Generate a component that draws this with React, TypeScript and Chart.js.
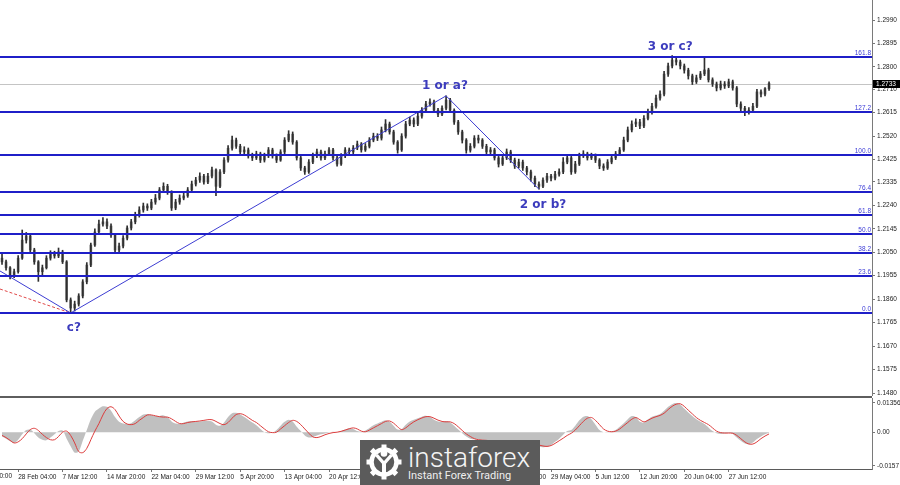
import React, { useEffect, useRef } from "react";
import { Chart, registerables } from "chart.js";

Chart.register(...registerables);

// ---------- price bars (H4), one value per bar ----------
const FIRST_OPEN = 1.2026;
const CLOSES = [
  1.2011,1.1987,1.1955,1.1971,1.2026,1.2099,1.2116,1.2059,1.2011,1.1971,
  1.1987,1.2026,1.2043,1.2035,1.2051,1.2011,1.1857,1.1824,1.1840,1.1873,
  1.1930,1.1998,1.2079,1.2132,1.2164,1.2173,1.2156,1.2120,1.2059,1.2075,
  1.2107,1.2148,1.2173,1.2200,1.2221,1.2237,1.2229,1.2253,1.2269,1.2302,
  1.2317,1.2294,1.2229,1.2253,1.2269,1.2278,1.2302,1.2326,1.2342,1.2358,
  1.2334,1.2358,1.2383,1.2317,1.2375,1.2423,1.2471,1.2504,1.2479,1.2456,
  1.2464,1.2440,1.2432,1.2448,1.2423,1.2440,1.2464,1.2440,1.2423,1.2456,
  1.2504,1.2528,1.2496,1.2432,1.2391,1.2375,1.2415,1.2440,1.2456,1.2432,
  1.2448,1.2464,1.2432,1.2407,1.2440,1.2464,1.2456,1.2472,1.2488,1.2464,
  1.2479,1.2504,1.2520,1.2512,1.2545,1.2569,1.2537,1.2496,1.2464,1.2520,
  1.2569,1.2585,1.2569,1.2601,1.2625,1.2650,1.2658,1.2625,1.2609,1.2633,
  1.2666,1.2625,1.2577,1.2537,1.2504,1.2463,1.2479,1.2512,1.2504,1.2479,
  1.2456,1.2464,1.2432,1.2407,1.2432,1.2456,1.2423,1.2399,1.2415,1.2391,
  1.2375,1.2350,1.2326,1.2317,1.2342,1.2358,1.2350,1.2366,1.2375,1.2415,
  1.2432,1.2375,1.2407,1.2440,1.2448,1.2432,1.2440,1.2423,1.2399,1.2391,
  1.2415,1.2432,1.2448,1.2464,1.2504,1.2545,1.2569,1.2577,1.2561,1.2592,
  1.2617,1.2641,1.2674,1.2690,1.2771,1.2804,1.2828,1.2820,1.2804,1.2787,
  1.2764,1.2740,1.2756,1.2772,1.2788,1.2748,1.2731,1.2715,1.2731,1.2723,
  1.2740,1.2715,1.2650,1.2633,1.2617,1.2625,1.2641,1.2699,1.2690,1.2712,
  1.2733,
];
const HIGHS = [
  1.2044,1.2018,1.1992,1.1982,1.2036,1.2140,1.2130,1.2123,1.2066,1.2016,
  1.1998,1.2036,1.2056,1.2054,1.2067,1.2058,1.2016,1.1865,1.1852,1.1882,
  1.1939,1.2008,1.2087,1.2145,1.2180,1.2190,1.2185,1.2165,1.2125,1.2087,
  1.2117,1.2157,1.2183,1.2212,1.2234,1.2249,1.2246,1.2264,1.2284,1.2312,
  1.2331,1.2325,1.2299,1.2264,1.2282,1.2290,1.2312,1.2338,1.2353,1.2371,
  1.2365,1.2369,1.2395,1.2388,1.2385,1.2433,1.2482,1.2520,1.2512,1.2487,
  1.2477,1.2472,1.2451,1.2459,1.2455,1.2451,1.2474,1.2471,1.2448,1.2465,
  1.2514,1.2542,1.2537,1.2502,1.2438,1.2398,1.2425,1.2451,1.2468,1.2463,
  1.2459,1.2474,1.2471,1.2438,1.2449,1.2474,1.2472,1.2482,1.2500,1.2494,
  1.2490,1.2514,1.2532,1.2530,1.2557,1.2587,1.2577,1.2544,1.2502,1.2530,
  1.2580,1.2597,1.2594,1.2613,1.2636,1.2661,1.2671,1.2666,1.2633,1.2643,
  1.2683,1.2673,1.2631,1.2584,1.2544,1.2510,1.2490,1.2522,1.2524,1.2510,
  1.2487,1.2474,1.2471,1.2438,1.2443,1.2468,1.2463,1.2431,1.2427,1.2423,
  1.2398,1.2383,1.2358,1.2335,1.2351,1.2369,1.2365,1.2377,1.2388,1.2433,
  1.2443,1.2438,1.2418,1.2451,1.2461,1.2455,1.2451,1.2448,1.2429,1.2408,
  1.2425,1.2441,1.2458,1.2474,1.2516,1.2557,1.2582,1.2590,1.2588,1.2603,
  1.2629,1.2653,1.2686,1.2703,1.2782,1.2816,1.2846,1.2836,1.2828,1.2812,
  1.2795,1.2771,1.2767,1.2782,1.2840,1.2795,1.2756,1.2739,1.2743,1.2741,
  1.2751,1.2747,1.2721,1.2659,1.2641,1.2636,1.2653,1.2709,1.2707,1.2717,
  1.2740,
];
const LOWS = [
  1.2001,1.1977,1.1942,1.1947,1.1965,1.2021,1.2087,1.2051,1.2001,1.1932,
  1.1957,1.1982,1.2018,1.2026,1.2028,1.2004,1.1849,1.1804,1.1812,1.1832,
  1.1865,1.1922,1.1991,1.2073,1.2125,1.2155,1.2145,1.2110,1.2046,1.2051,
  1.2067,1.2100,1.2140,1.2165,1.2192,1.2212,1.2219,1.2222,1.2244,1.2262,
  1.2294,1.2284,1.2219,1.2222,1.2244,1.2262,1.2272,1.2294,1.2318,1.2333,
  1.2325,1.2328,1.2351,1.2279,1.2311,1.2368,1.2415,1.2463,1.2470,1.2445,
  1.2448,1.2431,1.2421,1.2425,1.2413,1.2415,1.2433,1.2431,1.2413,1.2418,
  1.2448,1.2497,1.2487,1.2423,1.2381,1.2365,1.2369,1.2408,1.2433,1.2423,
  1.2425,1.2441,1.2423,1.2398,1.2401,1.2433,1.2448,1.2449,1.2465,1.2455,
  1.2458,1.2472,1.2497,1.2502,1.2504,1.2537,1.2528,1.2487,1.2451,1.2458,
  1.2512,1.2562,1.2558,1.2562,1.2593,1.2617,1.2641,1.2616,1.2599,1.2603,
  1.2626,1.2616,1.2567,1.2527,1.2492,1.2451,1.2455,1.2472,1.2492,1.2470,
  1.2445,1.2448,1.2423,1.2395,1.2401,1.2425,1.2413,1.2389,1.2391,1.2381,
  1.2363,1.2338,1.2315,1.2305,1.2311,1.2333,1.2339,1.2343,1.2358,1.2368,
  1.2408,1.2365,1.2369,1.2401,1.2433,1.2423,1.2425,1.2413,1.2388,1.2381,
  1.2385,1.2408,1.2425,1.2441,1.2458,1.2497,1.2537,1.2558,1.2550,1.2554,
  1.2586,1.2609,1.2633,1.2666,1.2683,1.2762,1.2796,1.2808,1.2792,1.2775,
  1.2751,1.2729,1.2733,1.2749,1.2765,1.2739,1.2721,1.2703,1.2707,1.2713,
  1.2716,1.2706,1.2639,1.2621,1.2603,1.2609,1.2617,1.2635,1.2679,1.2683,
  1.2705,
];

// ---------- oscillator (histogram + signal) ----------
const HIST = [
  -0.0020,-0.0030,-0.0042,-0.0050,-0.0035,-0.0010,0.0010,0.0012,-0.0005,-0.0025,
  -0.0035,-0.0038,-0.0025,-0.0010,0.0005,0.0008,-0.0030,-0.0065,-0.0095,-0.0090,
  -0.0040,0.0010,0.0060,0.0095,0.0110,0.0120,0.0118,0.0100,0.0070,0.0048,
  0.0040,0.0038,0.0042,0.0055,0.0070,0.0082,0.0085,0.0080,0.0075,0.0075,
  0.0078,0.0070,0.0050,0.0040,0.0038,0.0045,0.0050,0.0052,0.0050,0.0050,
  0.0052,0.0052,0.0050,0.0035,0.0030,0.0045,0.0070,0.0088,0.0090,0.0082,
  0.0070,0.0058,0.0045,0.0032,0.0015,0.0000,-0.0005,-0.0003,0.0010,0.0030,
  0.0048,0.0058,0.0050,0.0025,0.0005,-0.0015,-0.0025,-0.0022,-0.0015,-0.0010,
  -0.0006,-0.0002,0.0002,0.0000,0.0005,0.0012,0.0018,0.0015,0.0005,0.0002,
  0.0008,0.0020,0.0032,0.0040,0.0048,0.0055,0.0048,0.0030,0.0012,0.0015,
  0.0035,0.0050,0.0058,0.0065,0.0072,0.0076,0.0070,0.0058,0.0050,0.0048,
  0.0052,0.0045,0.0030,0.0012,-0.0005,-0.0020,-0.0030,-0.0033,-0.0035,-0.0038,
  -0.0042,-0.0042,-0.0045,-0.0048,-0.0045,-0.0040,-0.0040,-0.0044,-0.0046,-0.0048,
  -0.0050,-0.0055,-0.0060,-0.0066,-0.0070,-0.0068,-0.0060,-0.0045,-0.0030,-0.0012,
  0.0005,0.0010,0.0030,0.0055,0.0072,0.0075,0.0060,0.0035,0.0010,0.0000,
  0.0002,0.0004,0.0010,0.0025,0.0042,0.0060,0.0075,0.0070,0.0048,0.0045,
  0.0060,0.0072,0.0078,0.0085,0.0100,0.0118,0.0130,0.0135,0.0128,0.0110,
  0.0092,0.0075,0.0060,0.0048,0.0038,0.0022,0.0005,-0.0005,-0.0008,-0.0006,
  -0.0004,-0.0008,-0.0025,-0.0040,-0.0052,-0.0056,-0.0048,-0.0032,-0.0020,-0.0010,
  -0.0002,
];
const SIGNAL = [
  -0.0015,-0.0025,-0.0038,-0.0050,-0.0045,-0.0030,-0.0008,0.0012,0.0018,0.0008,
  -0.0010,-0.0025,-0.0035,-0.0035,-0.0020,0.0000,0.0005,-0.0015,-0.0050,-0.0090,
  -0.0095,-0.0075,-0.0035,0.0005,0.0040,0.0080,0.0110,0.0118,0.0105,0.0075,
  0.0050,0.0038,0.0035,0.0040,0.0055,0.0068,0.0080,0.0080,0.0076,0.0072,
  0.0070,0.0070,0.0062,0.0050,0.0040,0.0040,0.0045,0.0048,0.0050,0.0052,
  0.0055,0.0058,0.0058,0.0050,0.0040,0.0035,0.0045,0.0065,0.0082,0.0086,
  0.0080,0.0068,0.0055,0.0045,0.0030,0.0015,0.0002,-0.0002,0.0000,0.0015,
  0.0030,0.0045,0.0055,0.0050,0.0035,0.0015,-0.0005,-0.0022,-0.0025,-0.0020,
  -0.0012,-0.0006,-0.0002,0.0000,0.0004,0.0010,0.0016,0.0020,0.0015,0.0005,
  0.0002,0.0010,0.0020,0.0030,0.0040,0.0050,0.0052,0.0042,0.0025,0.0012,
  0.0020,0.0035,0.0048,0.0058,0.0066,0.0072,0.0072,0.0065,0.0056,0.0050,
  0.0048,0.0048,0.0040,0.0025,0.0008,-0.0008,-0.0020,-0.0030,-0.0035,-0.0037,
  -0.0038,-0.0040,-0.0042,-0.0044,-0.0044,-0.0042,-0.0040,-0.0040,-0.0042,-0.0044,
  -0.0046,-0.0050,-0.0055,-0.0060,-0.0064,-0.0066,-0.0062,-0.0052,-0.0040,-0.0028,
  -0.0015,-0.0005,0.0010,0.0030,0.0050,0.0065,0.0068,0.0055,0.0035,0.0015,
  0.0005,0.0002,0.0005,0.0015,0.0030,0.0045,0.0060,0.0068,0.0058,0.0048,
  0.0055,0.0065,0.0072,0.0078,0.0088,0.0105,0.0120,0.0130,0.0132,0.0120,
  0.0102,0.0085,0.0068,0.0055,0.0045,0.0035,0.0020,0.0005,-0.0002,-0.0004,
  -0.0004,-0.0005,-0.0015,-0.0030,-0.0045,-0.0055,-0.0055,-0.0045,-0.0030,-0.0018,
  -0.0008,
];

// ---------- axes ----------
const TIME_LABELS = [
  "20 Feb 20:00", "28 Feb 04:00", "7 Mar 12:00", "14 Mar 20:00", "22 Mar 04:00",
  "29 Mar 12:00", "5 Apr 20:00", "13 Apr 04:00", "20 Apr 12:00", "27 Apr 20:00",
  "5 May 04:00", "12 May 12:00", "19 May 20:00", "29 May 04:00", "5 Jun 12:00",
  "12 Jun 20:00", "20 Jun 04:00", "27 Jun 12:00",
];
const TIME_INDEX = [-7, 4, 15, 26, 37, 48, 59, 70, 81, 92, 103, 114, 125, 136, 147, 158, 169, 180];

const PRICE_TICKS = [1.299, 1.2895, 1.28, 1.271, 1.2615, 1.252, 1.2425, 1.2335, 1.224, 1.2145, 1.205, 1.1955, 1.186, 1.1765, 1.167, 1.1575, 1.148];
const SUB_TICKS = [0.01356, 0, -0.0157];
const SUB_TICK_LABELS = ["0.01356", "0.00", "-0.0157"];

// ---------- drawing objects ----------
const FIB_LEVELS = [0, 23.6, 38.2, 50, 61.8, 76.4, 100, 127.2, 161.8];
const FIB_LOW = 1.1804;
const FIB_HIGH = 1.2444;
const LAST_PRICE = 1.2733;

const WAVE_X = [-0.5, 17, 110, 133];
const WAVE_Y = [1.1974, 1.1804, 1.2683, 1.2305];
const DASH_X = [-0.5, 17];
const DASH_Y = [1.1901, 1.1804];

const WAVE_LABELS = ["c?", "1 or a?", "2 or b?", "3 or c?"];
const WAVE_LABEL_X = [17.8, 109.7, 134, 165.5];
const WAVE_LABEL_Y = [1.1743, 1.2723, 1.2241, 1.2883];

const X_MIN = -0.5;
const X_MAX = 215.5;
const PRICE_MIN = 1.14679;
const PRICE_MAX = 1.30711;
const SUB_MIN = -0.0171;
const SUB_MAX = 0.01588;

const AXIS_FONT = { family: "Liberation Sans", size: 6.5 };
const AXIS_W = 28;

export default function App() {
  const mainRef = useRef<HTMLCanvasElement>(null);
  const subRef = useRef<HTMLCanvasElement>(null);

  useEffect(() => {
    document.body.style.margin = "0";
    const opens = CLOSES.map((c, i) => (i === 0 ? FIRST_OPEN : CLOSES[i - 1]));
    const wickData = CLOSES.map((_, i) => ({ x: i, y: [LOWS[i], HIGHS[i]] }));
    const bodyData = CLOSES.map((c, i) => ({ x: i, y: [opens[i], c] }));
    const waveData = WAVE_X.map((x, i) => ({ x, y: WAVE_Y[i] }));
    const dashData = DASH_X.map((x, i) => ({ x, y: DASH_Y[i] }));
    const histData = HIST.map((v, i) => ({ x: i, y: v }));
    const sigData = SIGNAL.map((v, i) => ({ x: i, y: v }));

    const mainOverlay = {
      id: "mainOverlay",
      beforeDatasetsDraw(chart: any) {
        const { ctx, chartArea, scales } = chart;
        const py = Math.round(scales.y.getPixelForValue(LAST_PRICE)) + 0.5;
        ctx.save();
        ctx.strokeStyle = "#c4c4c4";
        ctx.lineWidth = 1;
        ctx.beginPath();
        ctx.moveTo(chartArea.left, py);
        ctx.lineTo(chartArea.right, py);
        ctx.stroke();
        ctx.restore();
      },
      afterDatasetsDraw(chart: any) {
        const { ctx, chartArea, scales } = chart;
        const y = scales.y;
        const x = scales.x;
        ctx.save();
        FIB_LEVELS.forEach((lvl) => {
          const p = FIB_LOW + ((FIB_HIGH - FIB_LOW) * lvl) / 100;
          const ly = Math.round(y.getPixelForValue(p));
          ctx.fillStyle = "#1f1fc8";
          ctx.fillRect(chartArea.left, ly - 1, chartArea.right - chartArea.left, 2);
          ctx.font = "6.5px 'Liberation Sans'";
          ctx.fillStyle = "#3a3ad6";
          ctx.textAlign = "right";
          ctx.textBaseline = "alphabetic";
          ctx.fillText(lvl.toFixed(1), chartArea.right - 1, ly - 2);
        });
        ctx.font = "bold 12px 'DejaVu Sans'";
        ctx.fillStyle = "#3c3cbd";
        ctx.textAlign = "center";
        ctx.textBaseline = "middle";
        WAVE_LABELS.forEach((t, i) => {
          ctx.fillText(t, x.getPixelForValue(WAVE_LABEL_X[i]), y.getPixelForValue(WAVE_LABEL_Y[i]));
        });
        const py = y.getPixelForValue(LAST_PRICE);
        ctx.fillStyle = "#000";
        ctx.fillRect(chartArea.right + 1, Math.round(py) - 4, 27, 8);
        ctx.fillStyle = "#fff";
        ctx.font = "6.5px 'Liberation Sans'";
        ctx.textAlign = "left";
        ctx.textBaseline = "middle";
        ctx.fillText(LAST_PRICE.toFixed(4), chartArea.right + 4, Math.round(py));
        ctx.restore();
      },
    };

    const main = new Chart(mainRef.current as HTMLCanvasElement, {
      type: "bar",
      data: {
        datasets: [
          {
            type: "line",
            data: waveData,
            borderColor: "#3d3dd2",
            borderWidth: 1,
            pointRadius: 0,
            tension: 0,
            order: 0,
          } as any,
          {
            type: "line",
            data: dashData,
            borderColor: "#e04848",
            borderWidth: 1,
            borderDash: [3, 2],
            pointRadius: 0,
            tension: 0,
            order: 0,
          } as any,
          {
            type: "bar",
            data: wickData,
            backgroundColor: "#2f2f2f",
            barThickness: 1,
            grouped: false,
            order: 1,
          } as any,
          {
            type: "bar",
            data: bodyData,
            backgroundColor: "#6e6e6e",
            barThickness: 2,
            grouped: false,
            order: 2,
          } as any,
        ],
      },
      options: {
        animation: false,
        responsive: false,
        maintainAspectRatio: false,
        layout: { padding: 0 },
        plugins: { legend: { display: false }, tooltip: { enabled: false } },
        scales: {
          x: {
            type: "linear",
            min: X_MIN,
            max: X_MAX,
            offset: false,
            display: false,
            grid: { offset: false },
          },
          y: {
            position: "right",
            min: PRICE_MIN,
            max: PRICE_MAX,
            afterBuildTicks: (s: any) => {
              s.ticks = PRICE_TICKS.map((v) => ({ value: v }));
            },
            afterFit: (s: any) => {
              s.width = AXIS_W;
              s.paddingTop = 0;
              s.paddingBottom = 0;
            },
            ticks: {
              font: AXIS_FONT,
              color: "#222",
              padding: 2,
              autoSkip: false,
              callback: (v: any) => Number(v).toFixed(4),
            },
            grid: { drawOnChartArea: false, drawTicks: true, tickLength: 3, color: "#777" },
            border: { display: true, color: "#7a7a7a", width: 1 },
          },
        },
      } as any,
      plugins: [mainOverlay],
    });

    const subOverlay = {
      id: "subOverlay",
      afterDraw(chart: any) {
        const { ctx, chartArea, scales } = chart;
        ctx.save();
        ctx.fillStyle = "#5e5e5e";
        ctx.fillRect(0, 0, chartArea.right, 2);
        const xs = scales.x;
        ctx.font = "6.5px 'Liberation Sans'";
        ctx.fillStyle = "#222";
        ctx.textAlign = "left";
        ctx.textBaseline = "top";
        TIME_INDEX.forEach((idx, k) => {
          if (idx < X_MIN) {
            ctx.fillText(TIME_LABELS[k], xs.getPixelForValue(idx), xs.top + 4);
          }
        });
        ctx.restore();
      },
    };

    const sub = new Chart(subRef.current as HTMLCanvasElement, {
      type: "line",
      data: {
        datasets: [
          {
            data: sigData,
            borderColor: "#dc3c3c",
            borderWidth: 1,
            pointRadius: 0,
            tension: 0.35,
            fill: false,
            order: 0,
          } as any,
          {
            data: histData,
            borderWidth: 0,
            borderColor: "rgba(0,0,0,0)",
            backgroundColor: "#c0c0c0",
            pointRadius: 0,
            tension: 0.3,
            fill: "origin",
            order: 1,
          } as any,
        ],
      },
      options: {
        animation: false,
        responsive: false,
        maintainAspectRatio: false,
        layout: { padding: { top: 2, left: 0, right: 0, bottom: 0 } },
        plugins: { legend: { display: false }, tooltip: { enabled: false }, filler: { propagate: false } },
        scales: {
          x: {
            type: "linear",
            position: "bottom",
            min: X_MIN,
            max: X_MAX,
            offset: false,
            afterBuildTicks: (s: any) => {
              s.ticks = TIME_INDEX.filter((v) => v >= X_MIN && v <= X_MAX).map((v) => ({ value: v }));
            },
            afterFit: (s: any) => {
              s.height = 16;
              s.paddingLeft = 0;
              s.paddingRight = 0;
            },
            ticks: {
              font: AXIS_FONT,
              color: "#222",
              padding: 1,
              align: "start",
              maxRotation: 0,
              minRotation: 0,
              autoSkip: false,
              callback: (v: any) => {
                const k = TIME_INDEX.indexOf(Number(v));
                return k >= 0 ? TIME_LABELS[k] : "";
              },
            },
            grid: { drawOnChartArea: false, drawTicks: true, tickLength: 3, color: "#777", offset: false },
            border: { display: true, color: "#5a5a5a", width: 1 },
          },
          y: {
            position: "right",
            min: SUB_MIN,
            max: SUB_MAX,
            afterBuildTicks: (s: any) => {
              s.ticks = SUB_TICKS.map((v) => ({ value: v }));
            },
            afterFit: (s: any) => {
              s.width = AXIS_W;
              s.paddingTop = 0;
              s.paddingBottom = 0;
            },
            ticks: {
              font: AXIS_FONT,
              color: "#222",
              padding: 2,
              autoSkip: false,
              callback: (v: any) => {
                const k = SUB_TICKS.indexOf(Number(v));
                return k >= 0 ? SUB_TICK_LABELS[k] : "";
              },
            },
            grid: { drawOnChartArea: false, drawTicks: true, tickLength: 3, color: "#777" },
            border: { display: true, color: "#7a7a7a", width: 1 },
          },
        },
      } as any,
      plugins: [subOverlay],
    });

    return () => {
      main.destroy();
      sub.destroy();
    };
  }, []);

  return (
    <div style={{ position: "relative", width: 900, height: 485, overflow: "hidden", background: "#fff" }}>
      <canvas
        ref={mainRef}
        width={900}
        height={396}
        style={{ position: "absolute", left: 0, top: 0, width: 900, height: 396 }}
      />
      <canvas
        ref={subRef}
        width={900}
        height={89}
        style={{ position: "absolute", left: 0, top: 396, width: 900, height: 89 }}
      />
      <div
        style={{
          position: "absolute",
          left: 360,
          top: 440,
          width: 180,
          height: 45,
          background: "#5b5b5b",
          overflow: "hidden",
        }}
      >
        <svg width="36" height="36" viewBox="0 0 36 36" style={{ position: "absolute", left: 6, top: 4 }}>
          <g fill="#ffffff">
            {[0, 45, 90, 135, 180, 225, 270, 315].map((a) => (
              <rect key={a} x="15.5" y="0.5" width="5" height="6" transform={`rotate(${a} 18 18)`} />
            ))}
          </g>
          <circle cx="18" cy="18" r="12.5" fill="none" stroke="#ffffff" strokeWidth="4.5" />
          <circle cx="18" cy="9.5" r="3.3" fill="#ffffff" />
          <path d="M10.5 11 L18 19.5 L25.5 11" fill="none" stroke="#ffffff" strokeWidth="3.4" />
          <rect x="16" y="18.5" width="4" height="13" fill="#ffffff" />
        </svg>
        <div
          style={{
            position: "absolute",
            left: 48,
            top: 4,
            fontFamily: "Roboto, 'Open Sans', sans-serif",
            fontWeight: 300,
            fontSize: 28,
            lineHeight: "28px",
            color: "#f4f4f4",
            whiteSpace: "nowrap",
          }}
        >
          instaforex
        </div>
        <div
          style={{
            position: "absolute",
            left: 48,
            top: 30,
            fontFamily: "Roboto, 'Open Sans', sans-serif",
            fontSize: 11,
            lineHeight: "11px",
            color: "#eeeeee",
            whiteSpace: "nowrap",
          }}
        >
          Instant Forex Trading
        </div>
      </div>
    </div>
  );
}
